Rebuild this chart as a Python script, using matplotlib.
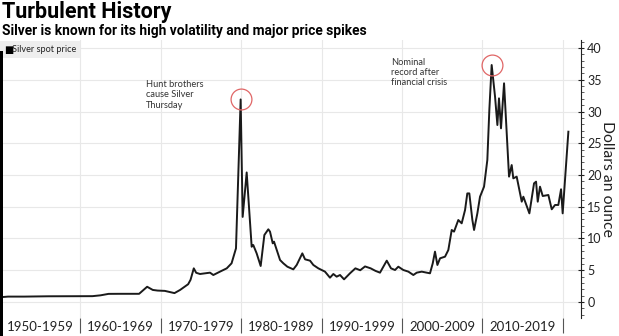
import matplotlib
matplotlib.use('Agg')
import matplotlib.pyplot as plt
from matplotlib.ticker import MultipleLocator, FixedLocator, NullFormatter, FixedFormatter
from matplotlib.patches import Rectangle

# Silver spot price, USD per ounce
years = [1950, 1951, 1953, 1956, 1959, 1961.5, 1962.5, 1963.5, 1965, 1967.3,
         1968.3, 1969.0, 1969.6, 1970.5, 1971.7, 1972.4, 1973.4, 1973.7, 1974.1, 1974.4,
         1974.88, 1976.12, 1976.53, 1977.36, 1978.2, 1978.8, 1979.35, 1979.93, 1980.18, 1980.68,
         1981.3, 1981.5, 1981.92, 1982.42, 1982.88, 1983.17, 1983.37, 1983.58, 1983.92, 1984.08,
         1984.83, 1985.24, 1985.74, 1986.48, 1986.9, 1987.6, 1987.94, 1988.56, 1988.97, 1989.59,
         1990.42, 1991.04, 1991.46, 1991.87, 1992.29, 1992.79, 1993.12, 1993.53, 1994.2, 1994.8,
         1995.4, 1996.1, 1996.7, 1997.26, 1998.1, 1998.63, 1999.13, 1999.54, 2000.16, 2000.79,
         2001.41, 2001.83, 2002.45, 2003.07, 2003.48, 2003.82, 2004.1, 2004.4, 2004.73, 2005.35,
         2005.76, 2006.18, 2006.47, 2007.0, 2007.42, 2007.84, 2008.12, 2008.37, 2008.75, 2008.96,
         2009.37, 2009.7, 2010.2, 2010.61, 2010.86, 2011.15, 2011.57, 2011.86, 2012.06, 2012.31,
         2012.69, 2013.31, 2013.64, 2013.84, 2014.26, 2014.89, 2015.09, 2015.84, 2016.42, 2016.67,
         2016.88, 2017.16, 2017.5, 2018.2, 2018.62, 2019.03, 2019.44, 2019.78, 2019.98, 2020.69]
price = [0.75, 0.85, 0.85, 0.9, 0.91, 0.92, 1.05, 1.28, 1.29, 1.29,
         2.4, 1.9, 1.8, 1.75, 1.4, 1.9, 2.8, 3.5, 5.3, 4.6,
         4.41, 4.62, 4.25, 4.78, 5.3, 6.09, 8.45, 31.9, 13.4, 20.4,
         8.7, 8.97, 7.66, 5.67, 10.55, 11.08, 11.45, 11.08, 9.24, 9.5,
         6.61, 6.09, 5.56, 5.14, 5.83, 7.66, 6.72, 6.51, 5.83, 5.3,
         4.78, 3.83, 4.41, 3.99, 4.25, 3.57, 3.99, 4.52, 5.3, 5.0,
         5.6, 5.3, 4.9, 4.62, 6.51, 5.3, 5.04, 5.56, 5.04, 4.78,
         4.25, 4.62, 4.78, 4.62, 4.52, 6.09, 7.93, 5.83, 6.88, 7.14,
         8.19, 11.34, 11.08, 12.91, 12.39, 14.49, 17.1, 17.1, 12.91, 11.34,
         13.96, 16.58, 18.16, 22.36, 30.24, 37.32, 32.33, 27.87, 32.07, 27.35,
         34.44, 19.74, 21.57, 19.47, 19.74, 15.8, 16.58, 13.96, 18.69, 18.95,
         15.8, 18.16, 16.69, 16.85, 14.6, 15.28, 15.28, 17.75, 13.96, 26.82]

decades = ['1950-1959', '1960-1969', '1970-1979', '1980-1989', '1990-1999', '2000-2009', '2010-2019']
decade_starts = [1950, 1960, 1970, 1980, 1990, 2000, 2010]

# peaks that get a red circle
circled = [years.index(1979.93), years.index(2011.15)]

notes = ['Hunt brothers\ncause Silver\nThursday', 'Nominal\nrecord after\nfinancial crisis']
note_pos = [(1968.1, 35.0), (1998.6, 38.5)]

head_font = ['Roboto', 'DejaVu Sans']
body_font = ['Lato', 'DejaVu Sans']

fig = plt.figure(figsize=(6.19, 3.36), dpi=100)
ax = fig.add_axes([0.0, 1 - 318 / 336, 581 / 619, (318 - 40) / 336])

ax.set_xlim(1950, 2022.26)
ax.set_ylim(-2.52, 41.26)

ax.plot(years, price, color='#1a1a1a', lw=1.4, zorder=3)
for i in circled:
    ax.plot(years[i], price[i], marker='o', ms=15, mfc='none', mec='#e06666', mew=0.9, zorder=4)

for txt, (x, y) in zip(notes, note_pos):
    ax.text(x, y, txt, fontsize=6.7, family=body_font, color='#333333', va='top', ha='left',
            linespacing=1.2)

# grid
ax.yaxis.set_major_locator(MultipleLocator(5))
ax.yaxis.set_minor_locator(MultipleLocator(1))
ax.grid(axis='y', which='major', color='#e8e8e8', lw=0.8, zorder=0)
for d in decade_starts[1:] + [2020]:
    ax.axvline(d, color='#e8e8e8', lw=0.8, zorder=0)

# right axis
ax.yaxis.tick_right()
ax.yaxis.set_label_position('right')
ax.tick_params(axis='y', which='major', direction='inout', length=5, width=0.8, labelsize=9,
               colors='#222222', pad=2)
ax.tick_params(axis='y', which='minor', direction='out', length=2, width=0.6, colors='#444444')
for lab in ax.get_yticklabels():
    lab.set_family(body_font)
ax.set_ylabel('Dollars an ounce', rotation=270, fontsize=11.3, family=body_font, labelpad=9,
              color='#222222')

# x axis: separators at decade boundaries, labels centred between
ax.xaxis.set_major_locator(FixedLocator(decade_starts[1:] + [2020]))
ax.xaxis.set_major_formatter(NullFormatter())
ax.xaxis.set_minor_locator(FixedLocator([d + 5 for d in decade_starts]))
ax.xaxis.set_minor_formatter(FixedFormatter(decades))
ax.tick_params(axis='x', which='major', direction='out', length=11, width=0.8, colors='#555555')
ax.tick_params(axis='x', which='minor', length=0, pad=2.5, labelsize=9.5, labelcolor='#222222')
for lab in ax.get_xticklabels(minor=True):
    lab.set_family(body_font)

for s in ['top', 'left', 'bottom']:
    ax.spines[s].set_visible(False)
ax.spines['right'].set_color('#222222')
ax.spines['right'].set_linewidth(0.8)

# legend box
fig.patches.append(Rectangle((0, 1 - 58 / 336), 80 / 619, 17 / 336, transform=fig.transFigure,
                             facecolor='#eeeeee', edgecolor='none', zorder=1))
fig.text(4 / 619, 1 - 50 / 336, '\u25a0', fontsize=7, va='center', ha='left', color='black')
fig.text(12 / 619, 1 - 50 / 336, 'Silver spot price', fontsize=6.6, family=body_font,
         va='center', ha='left', color='#222222')

# left edge bar
fig.patches.append(Rectangle((0, 0), 3 / 619, 1 - 51 / 336, transform=fig.transFigure,
                             facecolor='black', edgecolor='none'))

fig.text(2 / 619, 1 - 12 / 336, 'Turbulent History', fontsize=15.5, fontweight='bold',
         family=head_font, va='center', ha='left', color='black')
fig.text(2 / 619, 1 - 31 / 336, 'Silver is known for its high volatility and major price spikes',
         fontsize=9.9, fontweight='bold', family=head_font, va='center', ha='left', color='black')

fig.savefig('out.png', dpi=100)
